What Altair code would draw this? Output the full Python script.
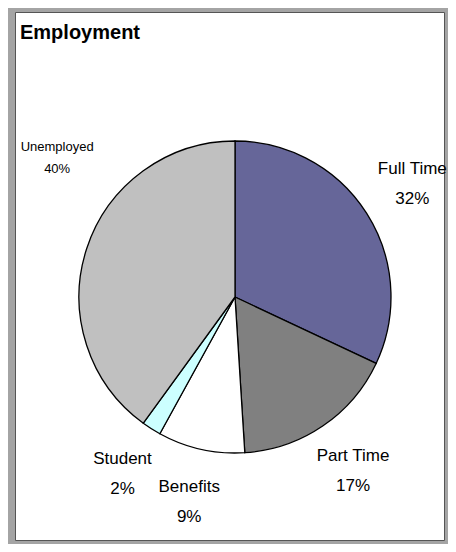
import altair as alt
import pandas as pd

categories = ["Full Time", "Part Time", "Benefits", "Student", "Unemployed"]
values = [32, 17, 9, 2, 40]
colors = ["#666699", "#808080", "#FFFFFF", "#CCFFFF", "#C0C0C0"]
title_text = "Employment"

df = pd.DataFrame({"cat": categories, "value": values, "idx": list(range(len(categories)))})
df["lbl"] = [f"{c}\n{v}%" for c, v in zip(categories, values)]

FONT = "Liberation Sans"
cx, cy = 220, 285

base = alt.Chart(df).encode(
    theta=alt.Theta("value:Q", stack=True),
    order=alt.Order("idx:Q"),
)

pie = base.mark_arc(radius=156, stroke="black", strokeWidth=1.3).encode(
    color=alt.Color("cat:N", scale=alt.Scale(domain=categories, range=colors), legend=None),
    x=alt.value(cx), y=alt.value(cy),
)

labels = base.mark_text(radius=210, dy=-15, fontSize=17, font=FONT, lineBreak="\n", lineHeight=30,
                        align="center", baseline="middle", color="black").encode(
    text=alt.condition("datum.cat != 'Unemployed'", alt.Text("lbl:N"), alt.value("")),
    x=alt.value(cx), y=alt.value(cy),
)

unemp = base.mark_text(radius=187, dy=-92, fontSize=13, font=FONT, lineBreak="\n", lineHeight=22,
                       align="center", baseline="middle", color="black").encode(
    text=alt.condition("datum.cat == 'Unemployed'", alt.Text("lbl:N"), alt.value("")),
    x=alt.value(cx), y=alt.value(cy),
)

title = alt.Chart(pd.DataFrame({"t": [title_text]})).mark_text(
    fontSize=20, font=FONT, fontWeight="bold", align="left", baseline="middle", color="black"
).encode(text="t:N", x=alt.value(5), y=alt.value(21))

chart = alt.layer(pie, labels, unemp, title).properties(
    width=440, height=536,
    autosize=alt.AutoSizeParams(type="fit", contains="padding"),
    padding={"left": 7, "top": 4, "right": 4, "bottom": 4},
    background="#a4a4a4",
).configure_view(fill="white", stroke="#555555", strokeWidth=1)

chart.save("out.html", embed_options={"renderer": "svg", "actions": False})
